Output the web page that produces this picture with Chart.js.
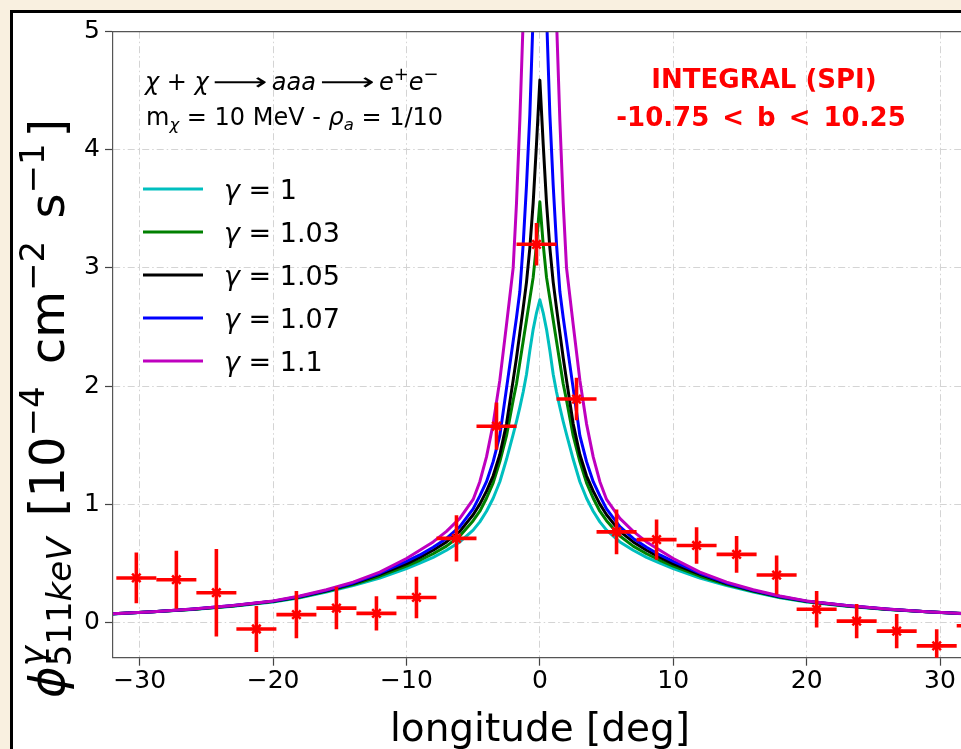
<!DOCTYPE html>
<html><head><meta charset="utf-8">
<script src="https://cdn.jsdelivr.net/npm/chart.js@4.4.1/dist/chart.umd.min.js"></script>
<style>
html,body{margin:0;padding:0;width:961px;height:749px;overflow:hidden;background:#f9f0e0;}
#frame{position:absolute;left:10px;top:10px;width:1100px;height:900px;border:3px solid #000;background:#fff;}
#c{position:absolute;left:0;top:0;}
</style></head><body>
<div id="frame"></div>
<canvas id="c" width="1000" height="800"></canvas>
<script>
// ---- data ----
const xTicks = [-30, -20, -10, 0, 10, 20, 30];
const yTicks = [0, 1, 2, 3, 4, 5];

const curveX = [-32,-29,-26,-23,-20,-18,-16,-14,-12,-10,-9,-8,-7,-6,-5,-4.5,-4,-3.5,-3,-2.5,-2,-1.75,-1.5,-1.25,-1,-0.75,-0.5,-0.25,0,
                0.25,0.5,0.75,1,1.25,1.5,1.75,2,2.5,3,3.5,4,4.5,5,6,7,8,9,10,12,14,16,18,20,23,26,29,32];
const gamma1   = [0.071,0.088,0.109,0.136,0.172,0.208,0.255,0.31,0.375,0.455,0.50,0.55,0.61,0.68,0.78,0.85,0.94,1.05,1.19,1.38,1.59,1.70,1.82,1.95,2.10,2.30,2.48,2.62,2.73,
                  2.62,2.48,2.30,2.10,1.95,1.82,1.70,1.59,1.38,1.19,1.05,0.94,0.85,0.78,0.68,0.61,0.55,0.50,0.455,0.375,0.31,0.255,0.208,0.172,0.136,0.109,0.088,0.071];
const gamma103 = [0.072,0.089,0.11,0.138,0.175,0.212,0.262,0.32,0.39,0.475,0.525,0.58,0.645,0.73,0.86,0.94,1.05,1.18,1.36,1.58,1.88,2.02,2.20,2.38,2.56,2.74,2.92,3.20,3.56,
                  3.20,2.92,2.74,2.56,2.38,2.20,2.02,1.88,1.58,1.36,1.18,1.05,0.94,0.86,0.73,0.645,0.58,0.525,0.475,0.39,0.32,0.262,0.212,0.175,0.138,0.11,0.089,0.072];
const gamma105 = [0.072,0.089,0.111,0.139,0.177,0.215,0.266,0.327,0.405,0.495,0.55,0.61,0.68,0.77,0.91,1.00,1.11,1.24,1.42,1.68,2.05,2.24,2.45,2.66,2.88,3.17,3.55,4.05,4.59,
                  4.05,3.55,3.17,2.88,2.66,2.45,2.24,2.05,1.68,1.42,1.24,1.11,1.00,0.91,0.77,0.68,0.61,0.55,0.495,0.405,0.327,0.266,0.215,0.177,0.139,0.111,0.089,0.072];
const gamma107 = [0.072,0.09,0.112,0.141,0.179,0.218,0.27,0.333,0.415,0.515,0.57,0.635,0.71,0.81,0.96,1.07,1.19,1.36,1.58,1.98,2.38,2.58,2.80,3.20,3.70,4.30,5.15,5.90,6.60,
                  5.90,5.15,4.30,3.70,3.20,2.80,2.58,2.38,1.98,1.58,1.36,1.19,1.07,0.96,0.81,0.71,0.635,0.57,0.515,0.415,0.333,0.27,0.218,0.179,0.141,0.112,0.09,0.072];
const gamma110 = [0.073,0.09,0.113,0.142,0.181,0.222,0.275,0.34,0.425,0.54,0.61,0.68,0.77,0.88,1.04,1.19,1.40,1.68,2.05,2.52,3.00,3.55,4.25,5.10,5.80,6.50,7.20,8.10,9.00,
                  8.10,7.20,6.50,5.80,5.10,4.25,3.55,3.00,2.52,2.05,1.68,1.40,1.19,1.04,0.88,0.77,0.68,0.61,0.54,0.425,0.34,0.275,0.222,0.181,0.142,0.113,0.09,0.073];

const obsL    = [-30.25,-27.25,-24.25,-21.25,-18.25,-15.25,-12.25,-9.25,-6.25,-3.25,-0.25,2.75,5.75,8.75,11.75,14.75,17.75,20.75,23.75,26.75,29.75,32.75];
const obsFlux = [0.375,0.36,0.25,-0.057,0.065,0.12,0.075,0.21,0.71,1.66,3.20,1.89,0.765,0.70,0.65,0.575,0.40,0.11,0.01,-0.075,-0.20,-0.03];
const obsErr  = [0.215,0.245,0.37,0.195,0.20,0.18,0.145,0.175,0.195,0.20,0.18,0.18,0.19,0.17,0.155,0.155,0.165,0.155,0.145,0.145,0.14,0.14];
const obsLErr = [1.5,1.5,1.5,1.5,1.5,1.5,1.5,1.5,1.5,1.5,1.5,1.5,1.5,1.5,1.5,1.5,1.5,1.5,1.5,1.5,1.5,1.5];

const seriesNames  = ['1', '1.03', '1.05', '1.07', '1.1'];
const seriesValues = [gamma1, gamma103, gamma105, gamma107, gamma110];
const seriesColors = ['#00bfbf', '#008000', '#000000', '#0000ff', '#bf00bf'];

// ---- helpers ----
const FF = '"DejaVu Sans"';
function drawRich(ctx, x, y, segs) {
  let cx = x, hold = 0;
  for (const s of segs) {
    ctx.font = (s.style || 'normal') + ' ' + (s.weight || 'normal') + ' ' + s.size + 'px ' + FF;
    ctx.fillStyle = s.color || '#000';
    ctx.textAlign = 'left';
    ctx.textBaseline = 'alphabetic';
    const sx = s.sx || 1;
    let w = ctx.measureText(s.t).width * sx;
    if (sx !== 1) {
      ctx.save(); ctx.translate(cx, y + (s.dy || 0)); ctx.scale(sx, 1);
      ctx.fillText(s.t, 0, 0); ctx.restore();
    } else {
      ctx.fillText(s.t, cx, y + (s.dy || 0));
    }
    if (s.hold) { hold = w; continue; }
    cx += Math.max(w, hold) + (s.gap || 0);
    hold = 0;
  }
  return cx;
}

const decor = {
  id: 'decor',
  afterDatasetsDraw(chart) {
    const ctx = chart.ctx, a = chart.chartArea;
    const xs = chart.scales.x, ys = chart.scales.y;
    ctx.save();
    ctx.beginPath(); ctx.rect(a.left, a.top, a.right - a.left, a.bottom - a.top); ctx.clip();
    ctx.strokeStyle = '#ff0000'; ctx.lineWidth = 3.6; ctx.lineCap = 'butt';
    for (let i = 0; i < obsL.length; i++) {
      const px = xs.getPixelForValue(obsL[i]);
      const py = ys.getPixelForValue(obsFlux[i]);
      ctx.beginPath();
      ctx.moveTo(xs.getPixelForValue(obsL[i] - obsLErr[i]), py);
      ctx.lineTo(xs.getPixelForValue(obsL[i] + obsLErr[i]), py);
      ctx.moveTo(px, ys.getPixelForValue(obsFlux[i] - obsErr[i]));
      ctx.lineTo(px, ys.getPixelForValue(obsFlux[i] + obsErr[i]));
      ctx.stroke();
    }
    ctx.restore();
  },
  afterDraw(chart) {
    const ctx = chart.ctx, a = chart.chartArea;
    ctx.save();
    ctx.strokeStyle = '#555'; ctx.lineWidth = 1.2;
    ctx.beginPath(); ctx.moveTo(a.left, a.top); ctx.lineTo(a.right, a.top); ctx.stroke();

    // legend
    for (let i = 0; i < seriesNames.length; i++) {
      const y = 189 + 43 * i;
      ctx.strokeStyle = seriesColors[i]; ctx.lineWidth = 3;
      ctx.beginPath(); ctx.moveTo(143, y); ctx.lineTo(203, y); ctx.stroke();
      drawRich(ctx, 224, y + 10, [
        {t: 'γ', size: 27, style: 'italic'},
        {t: ' = ' + seriesNames[i], size: 27}
      ]);
    }

    // reaction annotation
    drawRich(ctx, 145, 90, [
      {t: 'χ', size: 24, style: 'italic'},
      {t: ' + ', size: 24},
      {t: 'χ', size: 24, style: 'italic', gap: 4},
      {t: '⟶', size: 24, sx: 1.6, gap: 4},
      {t: 'aaa', size: 24, style: 'italic', gap: 4},
      {t: '⟶', size: 24, sx: 1.6, gap: 4},
      {t: 'e', size: 24, style: 'italic'},
      {t: '+', size: 18, dy: -10},
      {t: 'e', size: 24, style: 'italic'},
      {t: '−', size: 18, dy: -10}
    ]);
    drawRich(ctx, 146, 125, [
      {t: 'm', size: 24},
      {t: 'χ', size: 16.5, style: 'italic', dy: 5},
      {t: ' = 10 MeV - ', size: 24},
      {t: 'ρ', size: 24, style: 'italic'},
      {t: 'a', size: 16.5, style: 'italic', dy: 5},
      {t: ' = 1/10', size: 24}
    ]);

    // red labels
    ctx.fillStyle = '#ff0000';
    ctx.textAlign = 'center'; ctx.textBaseline = 'alphabetic';
    ctx.font = 'bold 26px ' + FF;
    ctx.fillText('INTEGRAL (SPI)', 764, 88);
    ctx.fillText('-10.75\u2002<\u2002b\u2002<\u200210.25', 761, 126);

    // x title
    ctx.fillStyle = '#000';
    ctx.font = '39px ' + FF;
    ctx.fillText('longitude [deg]', 540, 741);

    // y title (rotated)
    ctx.save();
    ctx.translate(64, 698);
    ctx.rotate(-Math.PI / 2);
    drawRich(ctx, 0, 0, [
      {t: 'ϕ', size: 48, style: 'italic'},
      {t: 'γ', size: 34, style: 'italic', dy: -20, hold: true},
      {t: '511', size: 34, dy: 7},
      {t: 'keV', size: 34, style: 'italic', dy: 7, gap: 6},
      {t: ' [10', size: 48},
      {t: '−4', size: 34, dy: -20, gap: 7},
      {t: ' cm', size: 48},
      {t: '−2', size: 34, dy: -20, gap: 7},
      {t: ' s', size: 48},
      {t: '−1', size: 34, dy: -20, gap: 6},
      {t: ']', size: 48}
    ]);
    ctx.restore();
    ctx.restore();
  }
};

// ---- chart ----
const datasets = [];
datasets.push({
  label: 'INTEGRAL (SPI)',
  data: obsL.map((x, i) => ({x: x, y: obsFlux[i]})),
  showLine: false, pointStyle: 'star', pointRadius: 6, borderWidth: 2.5,
  borderColor: '#ff0000', backgroundColor: '#ff0000', order: 0, clip: 0
});
for (let k = seriesValues.length - 1; k >= 0; k--) {
  datasets.push({
    label: 'γ = ' + seriesNames[k],
    data: curveX.map((x, i) => ({x: x, y: seriesValues[k][i]})),
    borderColor: seriesColors[k], borderWidth: 3, pointRadius: 0, tension: 0,
    borderJoinStyle: 'round', fill: false, order: seriesValues.length - k, clip: 0
  });
}

const gridCommon = {color: '#d4d4d4', lineWidth: 1, tickLength: 8, tickColor: '#444', tickWidth: 1.2, drawOnChartArea: true};
const borderCommon = {display: true, color: '#555', width: 1.2, dash: [7, 3, 1.5, 3]};

new Chart(document.getElementById('c'), {
  type: 'line',
  data: {datasets: datasets},
  options: {
    responsive: false, animation: false, devicePixelRatio: 1,
    layout: {padding: {left: 0, top: 31.7, right: 33.3, bottom: 0}},
    plugins: {legend: {display: false}, tooltip: {enabled: false}},
    scales: {
      x: {
        type: 'linear', min: -32, max: 32,
        afterBuildTicks: s => { s.ticks = xTicks.map(v => ({value: v})); },
        afterFit: s => { s.height = 142.3; },
        grid: gridCommon, border: borderCommon,
        ticks: {font: {family: 'DejaVu Sans', size: 25}, color: '#000', padding: 1, maxRotation: 0, autoSkip: false,
                callback: v => String(v).replace('-', '\u2212')}
      },
      y: {
        type: 'linear', min: -0.3, max: 5,
        afterBuildTicks: s => { s.ticks = yTicks.map(v => ({value: v})); },
        afterFit: s => { s.width = 113; },
        grid: gridCommon, border: borderCommon,
        ticks: {font: {family: 'DejaVu Sans', size: 25}, color: '#000', padding: 5, autoSkip: false,
                callback: v => String(v).replace('-', '\u2212')}
      }
    }
  },
  plugins: [decor]
});
</script>
</body></html>
